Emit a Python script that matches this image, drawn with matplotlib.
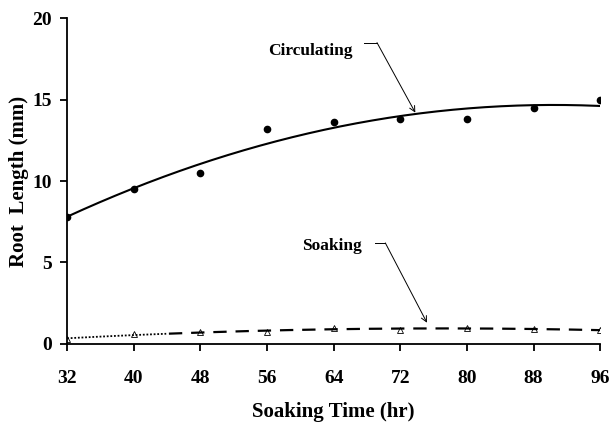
import numpy as np
import matplotlib
matplotlib.use("Agg")
from matplotlib import pyplot as plt

hours = [32, 40, 48, 56, 64, 72, 80, 88, 96]
circulating = [7.8, 9.5, 10.5, 13.2, 13.6, 13.8, 13.8, 14.5, 15.0]
soaking = [0.3, 0.6, 0.75, 0.7, 1.0, 0.85, 1.0, 0.9, 0.85]
yticks = [0, 5, 10, 15, 20]

plt.rcParams['font.family'] = ['Liberation Serif', 'DejaVu Serif']
plt.rcParams['font.weight'] = 'bold'

fig = plt.figure(figsize=(6.1, 4.23), dpi=100)
ax = fig.add_axes([0.110, 0.187, 0.874, 0.770])

# trendlines (2nd order polynomial, like the spreadsheet)
xs = np.linspace(32, 96, 200)
c_fit = np.polyval(np.polyfit(hours, circulating, 2), xs)
s_fit = np.polyval(np.polyfit(hours, soaking, 2), xs)

ax.plot(xs, c_fit, color="k", linewidth=1.5)
ax.plot(hours, circulating, linestyle="None", marker="o", markersize=4.5, color="k")

cut = xs <= 44
ax.plot(xs[cut], s_fit[cut], color="k", linewidth=1.3, linestyle=(0, (1, 1)))
ax.plot(xs[~cut], s_fit[~cut], color="k", linewidth=1.6, linestyle=(0, (6, 4)))
ax.plot(hours, soaking, linestyle="None", marker="^", markersize=4,
        markerfacecolor="none", markeredgecolor="k", markeredgewidth=0.6)

# labels with leader lines
ax.text(61.2, 18.0, "Circulating", ha="center", va="center", fontsize=12.5, fontweight="bold")
ax.plot([67.6, 69.2], [18.5, 18.5], color="k", linewidth=0.7)
ax.annotate("", xy=(73.8, 14.2), xytext=(69.2, 18.5),
            arrowprops=dict(arrowstyle="->", color="k", linewidth=0.7, shrinkA=0, shrinkB=0))

ax.text(63.8, 6.0, "Soaking", ha="center", va="center", fontsize=12.5, fontweight="bold")
ax.plot([69.0, 70.2], [6.2, 6.2], color="k", linewidth=0.7)
ax.annotate("", xy=(75.2, 1.3), xytext=(70.2, 6.2),
            arrowprops=dict(arrowstyle="->", color="k", linewidth=0.7, shrinkA=0, shrinkB=0))

ax.set_xlim(32, 96)
ax.set_ylim(0, 20)
ax.set_xticks(hours)
ax.set_yticks(yticks)
ax.spines['top'].set_visible(False)
ax.spines['right'].set_visible(False)
ax.spines['left'].set_linewidth(1.3)
ax.spines['bottom'].set_linewidth(1.3)
ax.tick_params(axis='x', direction='out', length=5, width=1.3, pad=14, labelsize=14)
ax.tick_params(axis='y', direction='out', length=5, width=1.3, pad=6, labelsize=14)
for lab in ax.get_xticklabels() + ax.get_yticklabels():
    lab.set_fontweight('bold')

ax.set_xlabel("Soaking Time (hr)", fontsize=15, fontweight="bold", labelpad=10.5)
ax.set_ylabel("Root  Length (mm)", fontsize=15, fontweight="bold", labelpad=2.5)
ax.patch.set_visible(False)
for sp in ax.spines.values():
    sp.set_clip_on(False)

fig.savefig("out.png", dpi=100)
